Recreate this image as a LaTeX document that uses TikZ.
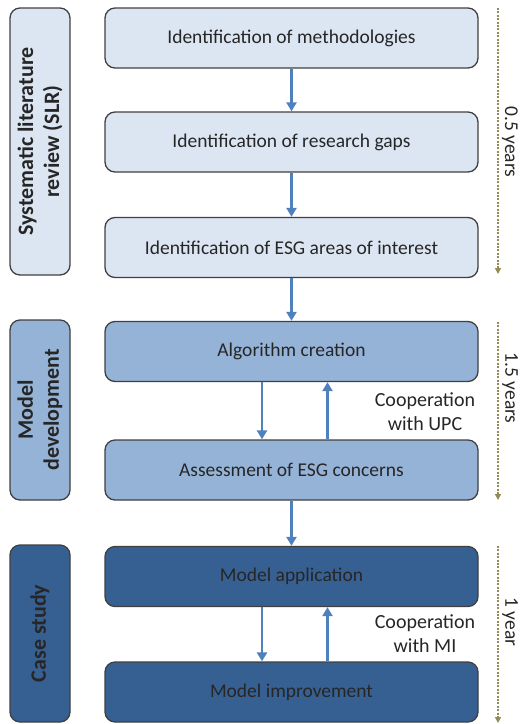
\documentclass[tikz,border=0pt]{standalone}
\usepackage{fontspec}
\setmainfont{Carlito}
\usetikzlibrary{arrows.meta}

\definecolor{boxlight}{HTML}{DCE6F2}
\definecolor{boxmid}{HTML}{95B3D7}
\definecolor{boxdark}{HTML}{376092}
\definecolor{flowblue}{HTML}{4F81BD}
\definecolor{timeline}{HTML}{948A54}
\definecolor{edge}{HTML}{404040}

\begin{document}
\begin{tikzpicture}[x=1pt, y=-1pt,
    every node/.style={font=\fontsize{19.5}{24}\selectfont, text=black!85},
    stage/.style={draw=edge, line width=1.3pt, rounded corners=10pt, minimum width=373pt, minimum height=60pt},
    phase/.style={draw=edge, line width=1.3pt, rounded corners=10pt, rotate=90, minimum height=60pt, align=center, font=\bfseries\fontsize{22}{26}\selectfont},
    flow/.style={-{Triangle[length=9pt, width=10pt]}, line width=2.6pt, flowblue},
    span/.style={-{Triangle[length=6pt, width=6pt]}, line width=2.6pt, dash pattern=on 2pt off 1.4pt, timeline}]
    \useasboundingbox (0,0) rectangle (521,724);

    % phases on the left
    \node[phase, fill=boxlight, minimum width=267pt] (slr) at (40,141.5) {Systematic literature\\review (SLR)};
    \node[phase, fill=boxmid, minimum width=180pt] (dev) at (40,410) {Model\\development};
    \node[phase, fill=boxdark, minimum width=177pt] (case) at (40,633.5) {Case study};

    % steps
    \node[stage, fill=boxlight] (m1) at (291.5,38) {Identification of methodologies};
    \node[stage, fill=boxlight] (m2) at (291.5,142) {Identification of research gaps};
    \node[stage, fill=boxlight] (m3) at (291.5,247.5) {Identification of ESG areas of interest};
    \node[stage, fill=boxmid] (d1) at (291.5,351.5) {Algorithm creation};
    \node[stage, fill=boxmid] (d2) at (291.5,470) {Assessment of ESG concerns};
    \node[stage, fill=boxdark] (c1) at (291.5,576.5) {Model application};
    \node[stage, fill=boxdark] (c2) at (291.5,692) {Model improvement};

    \draw[flow] (m1) -- (m2);
    \draw[flow] (m2) -- (m3);
    \draw[flow] (m3) -- (d1);
    \draw[flow] (d2) -- (c1);

    % feedback loops
    \draw[flow] ([xshift=-29.5pt]d1.south) -- ([xshift=-29.5pt]d2.north);
    \draw[flow] ([xshift=36pt]d2.north) -- ([xshift=36pt]d1.south);
    \draw[flow] ([xshift=-29.5pt]c1.south) -- ([xshift=-29.5pt]c2.north);
    \draw[flow] ([xshift=36pt]c2.north) -- ([xshift=36pt]c1.south);
    \node[align=center, font=\fontsize{20}{24}\selectfont] (upc) at (425,412) {Cooperation\\with UPC};
    \node[align=center, font=\fontsize{20}{24}\selectfont] (mi) at (425,634) {Cooperation\\with MI};

    % durations
    \coordinate (t1) at (498,8);
    \coordinate (t1e) at (498,274);
    \coordinate (t2) at (498,322);
    \coordinate (t2e) at (498,500);
    \coordinate (t3) at (498,546);
    \coordinate (t3e) at (498,723);
    \draw[span] (t1) -- (t1e);
    \draw[span] (t2) -- (t2e);
    \draw[span] (t3) -- (t3e);
    \node[rotate=-90] (y1) at (510,142) {0.5 years};
    \node[rotate=-90] (y2) at (510,388) {1.5 years};
    \node[rotate=-90] (y3) at (510,622) {1 year};
\end{tikzpicture}
\end{document}
